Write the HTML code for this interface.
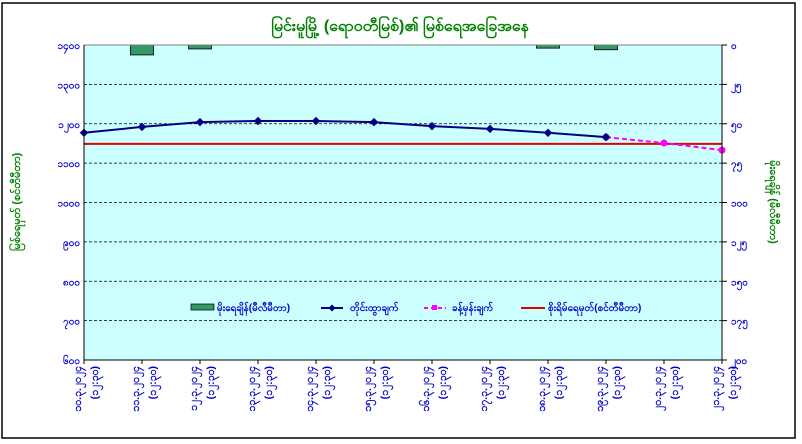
<!DOCTYPE html>
<html><head><meta charset="utf-8"><style>
body{margin:0;background:#fff;}
svg{display:block;font-family:"Liberation Sans","Noto Sans CJK SC",sans-serif;}
</style></head><body>
<svg width="802" height="444" viewBox="0 0 802 444">
<rect x="0" y="0" width="802" height="444" fill="#fff"/>
<rect x="2" y="3" width="793" height="435" fill="#fff" stroke="#000" stroke-width="1.5"/>
<text x="400" y="31" text-anchor="middle" font-size="16" font-weight="bold" fill="#008000">မြင်းမူမြို့ (ရောဝတီမြစ်)၏ မြစ်ရေအခြေအနေ</text>
<rect x="84" y="45" width="638" height="315" fill="#ccffff"/>
<g id="grid"></g>
<g id="bars"></g>
<line x1="84" y1="144" x2="722" y2="144" stroke="#e00000" stroke-width="2" id="red"/>
<g id="lines"></g>
<line x1="84" y1="45" x2="722" y2="45" stroke="#808080" stroke-width="1"/>
<line x1="84" y1="45" x2="84" y2="360" stroke="#000"/>
<line x1="722" y1="45" x2="722" y2="360" stroke="#000"/>
<line x1="84" y1="360" x2="722" y2="360" stroke="#000"/>
<g id="axes"></g>
<text transform="translate(20,202) rotate(-90)" text-anchor="middle" font-size="11" font-weight="bold" fill="#008000">မြစ်ရေမှတ် (စင်တီမီတာ)</text>
<text transform="translate(770,202) rotate(90)" text-anchor="middle" font-size="11" font-weight="bold" fill="#008000">မိုးရေချိန် (မီလီမီတာ)</text>
<g font-size="10" font-weight="bold" fill="#0000cc">
<g><rect x="191" y="304" width="23" height="6" fill="#339966" stroke="#000" stroke-width="0.7"/><text x="217" y="311">မိုးရေချိန်(မီလီမီတာ)</text></g>
<g><line x1="321" y1="308" x2="343" y2="308" stroke="#000080" stroke-width="2"/><rect x="329.5" y="305.5" width="5" height="5" fill="#000080" transform="rotate(45 332 308)"/><text x="350" y="311">တိုင်းထွာချက်</text></g>
<g><line x1="424" y1="308" x2="446" y2="308" stroke="#ff00ff" stroke-width="2" stroke-dasharray="4,3"/><rect x="432" y="305" width="5" height="5" fill="#ff00ff"/><text x="452" y="311">ခန့်မှန်းချက်</text></g>
<g><line x1="521" y1="308" x2="545" y2="308" stroke="#e00000" stroke-width="2"/><text x="548" y="311">စိုးရိမ်ရေမှတ်(စင်တီမီတာ)</text></g>
</g>
</svg>
<script>
const categories=["၁၀.၃.၂၀၂၄","၁၁.၃.၂၀၂၄","၁၂.၃.၂၀၂၄","၁၃.၃.၂၀၂၄","၁၄.၃.၂၀၂၄","၁၅.၃.၂၀၂၄","၁၆.၃.၂၀၂၄","၁၇.၃.၂၀၂၄","၁၈.၃.၂၀၂၄","၁၉.၃.၂၀၂၄","၂၀.၃.၂၀၂၄","၂၁.၃.၂၀၂၄"];
const times=["(၁၂:၃၀)","(၁၂:၃၀)","(၁၂:၃၀)","(၁၂:၃၀)","(၁၂:၃၀)","(၁၂:၃၀)","(၁၂:၃၀)","(၁၂:၃၀)","(၁၂:၃၀)","(၁၂:၃၀)","(၁၂:၃၀)","(၁၂:၃၀)"];
const observed=[1177,1192,1204,1207,1207,1204,1194,1187,1177,1166,null,null];
const forecast=[null,null,null,null,null,null,null,null,null,1166,1151,1133];
const rainfall=[0,6.3,2.5,0,0,0,0,0,2,3,0,0];
const dangerLevel=1149;
const leftTicks=["၁၄၀၀","၁၃၀၀","၁၂၀၀","၁၁၀၀","၁၀၀၀","၉၀၀","၈၀၀","၇၀၀","၆၀၀"];
const leftTickValues=[1400,1300,1200,1100,1000,900,800,700,600];
const rightTicks=["၀","၂၅","၅၀","၇၅","၁၀၀","၁၂၅","၁၅၀","၁၇၅","၂၀၀"];
const rightTickValues=[0,25,50,75,100,125,150,175,200];

const NS="http://www.w3.org/2000/svg";
const X0=84,X1=722,Y0=45,Y1=360;
function x(i){return X0+i*(X1-X0)/(categories.length-1);}
function yL(v){return Y0+(1400-v)/800*(Y1-Y0);}
function yR(v){return Y0+v/200*(Y1-Y0);}
function mk(tag,attrs,parent){const e=document.createElementNS(NS,tag);for(const k in attrs)e.setAttribute(k,attrs[k]);parent.appendChild(e);return e;}
const grid=document.getElementById('grid'),bars=document.getElementById('bars'),lines=document.getElementById('lines'),axes=document.getElementById('axes');
document.getElementById('red').setAttribute('y1',yL(dangerLevel));
document.getElementById('red').setAttribute('y2',yL(dangerLevel));
leftTickValues.forEach((v,i)=>{
  const y=yL(v);
  if(i>0&&i<leftTickValues.length-1){const g=mk('line',{x1:X0,x2:X1,y1:y,y2:y,stroke:'#000','stroke-dasharray':'3,2','stroke-width':0.8},grid);
  
  }
  const t=mk('text',{x:80,y:y+4,'text-anchor':'end','font-size':10,'font-weight':'bold',fill:'#0000cc'},axes);t.textContent=leftTicks[i];
  
  
});
rightTickValues.forEach((v,i)=>{
  const y=yR(v);
  mk('line',{x1:X1,x2:X1+5,y1:y,y2:y,stroke:'#000'},axes);
  const t=mk('text',{x:731,y:y+4,'font-size':10,'font-weight':'bold',fill:'#0000cc'},axes);t.textContent=rightTicks[i];
  
  
});
categories.forEach((c,i)=>{
  const cx=x(i);
  mk('line',{x1:cx,x2:cx,y1:Y1,y2:Y1+4,stroke:'#000'},axes);
  const t=mk('text',{transform:`translate(${cx-3},366) rotate(-90)`,'text-anchor':'end','font-size':10.5,'font-weight':'bold',fill:'#0000cc'},axes);t.textContent=c;
  
  
  const t2=mk('text',{transform:`translate(${cx+14},366) rotate(-90)`,'text-anchor':'end','font-size':10.5,'font-weight':'bold',fill:'#0000cc'},axes);t2.textContent=times[i];
  
  
  if(rainfall[i]>0){const b=mk('rect',{x:cx-11.5,y:Y0,width:23,height:yR(rainfall[i])-Y0,fill:'#339966',stroke:'#000','stroke-width':0.8},bars);
  
  }
});
function drawLine(arr,color,dash,name,square){
  const pts=[];arr.forEach((v,i)=>{if(v!==null)pts.push([x(i),yL(v)]);});
  const p=mk('polyline',{points:pts.map(p=>p.join(',')).join(' '),fill:'none',stroke:color,'stroke-width':2,'stroke-dasharray':dash},lines);
  
  
  pts.forEach(q=>{const m=square?mk('circle',{cx:q[0],cy:q[1],r:3.5,fill:color},lines):mk('rect',{x:q[0]-3,y:q[1]-3,width:6,height:6,fill:color,transform:`rotate(45 ${q[0]} ${q[1]})`},lines);
  
  });
}
drawLine(forecast,'#ff00ff','5,3','forecast',true);
drawLine(observed,'#000080','none','observed',false);
</script>
</body></html>
